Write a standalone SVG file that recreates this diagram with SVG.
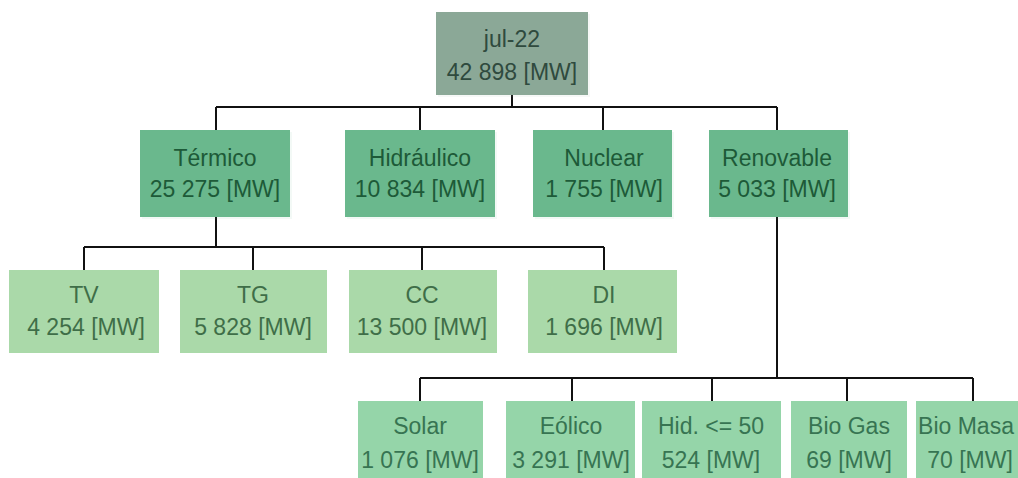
<svg xmlns="http://www.w3.org/2000/svg" width="1018" height="478" viewBox="0 0 1018 478">
<defs>
<style>
.t{font-family:"Liberation Sans",Arial,sans-serif;font-size:23px;text-anchor:middle}
.l0 rect{fill:#8ba897}
.l0 text{fill:#2f4a3e}
.l1 rect{fill:#6ab88d}
.l1 text{fill:#1d5a38}
.l2 rect{fill:#aad9a9}
.l2 text{fill:#3f6e48}
.l3 rect{fill:#95d5a9}
.l3 text{fill:#377452}
.sh{fill:#000;opacity:0.08}
#connectors path{fill:none;stroke:#111;stroke-width:2}
</style>
</defs>
<rect width="1018" height="478" fill="#fff"/>
<g id="connectors">
<path d="M512 95V107M216 107H777M216 107V130M420 107V130M603 107V130M777 107V130"/>
<path d="M216 217V247M84 247H604M84 247V270M253 247V270M422 247V270M604 247V270"/>
<path d="M777 217V378M420 378H973M420 378V401M572 378V401M712 378V401M847 378V401M973 378V401"/>
</g>
<g id="n-root" class="l0 t"><rect class="sh" x="438" y="14" width="152" height="83"/><rect x="436" y="12" width="152" height="83"/><text x="512" y="47">jul-22</text><text x="512" y="80">42 898 [MW]</text></g>
<g id="n-termico" class="l1 t"><rect class="sh" x="142" y="132" width="150" height="87"/><rect x="140" y="130" width="150" height="87"/><text x="215" y="166">Térmico</text><text x="215" y="197">25 275 [MW]</text></g>
<g id="n-hidraulico" class="l1 t"><rect class="sh" x="347" y="132" width="150" height="87"/><rect x="345" y="130" width="150" height="87"/><text x="420" y="166">Hidráulico</text><text x="420" y="197">10 834 [MW]</text></g>
<g id="n-nuclear" class="l1 t"><rect class="sh" x="535" y="132" width="139" height="87"/><rect x="533" y="130" width="139" height="87"/><text x="604" y="166">Nuclear</text><text x="604" y="197">1 755 [MW]</text></g>
<g id="n-renovable" class="l1 t"><rect class="sh" x="711" y="132" width="139" height="87"/><rect x="709" y="130" width="139" height="87"/><text x="777" y="166">Renovable</text><text x="777" y="197">5 033 [MW]</text></g>
<g id="n-tv" class="l2 t"><rect x="9" y="270" width="150" height="83"/><text x="84" y="303">TV</text><text x="86" y="335">4 254 [MW]</text></g>
<g id="n-tg" class="l2 t"><rect x="180" y="270" width="147" height="83"/><text x="253" y="303">TG</text><text x="253" y="335">5 828 [MW]</text></g>
<g id="n-cc" class="l2 t"><rect x="349" y="270" width="148" height="83"/><text x="422" y="303">CC</text><text x="422" y="335">13 500 [MW]</text></g>
<g id="n-di" class="l2 t"><rect x="528" y="270" width="149" height="83"/><text x="604" y="303">DI</text><text x="604" y="335">1 696 [MW]</text></g>
<g id="n-solar" class="l3 t"><rect x="358" y="401" width="125" height="80"/><text x="420" y="434">Solar</text><text x="420" y="468">1 076 [MW]</text></g>
<g id="n-eolico" class="l3 t"><rect x="506" y="401" width="129" height="80"/><text x="571" y="434">Eólico</text><text x="571" y="468">3 291 [MW]</text></g>
<g id="n-hid50" class="l3 t"><rect x="642" y="401" width="139" height="80"/><text x="711" y="434">Hid. &lt;= 50</text><text x="711" y="468">524 [MW]</text></g>
<g id="n-biogas" class="l3 t"><rect x="791" y="401" width="116" height="80"/><text x="849" y="434">Bio Gas</text><text x="849" y="468">69 [MW]</text></g>
<g id="n-biomasa" class="l3 t"><rect x="916" y="401" width="110" height="80"/><text x="966" y="434">Bio Masa</text><text x="970" y="468">70 [MW]</text></g>
</svg>
